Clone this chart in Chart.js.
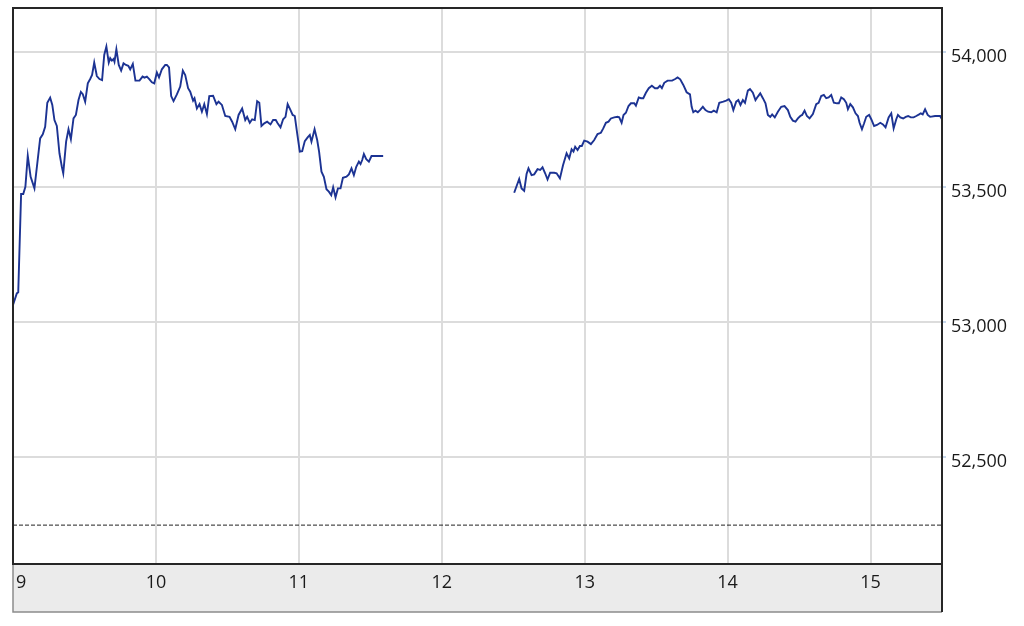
<!DOCTYPE html>
<html>
<head>
<meta charset="utf-8">
<script src="https://cdn.jsdelivr.net/npm/chart.js@4/dist/chart.umd.min.js"></script>
<style>
html,body{margin:0;padding:0;background:#fff;}
#wrap{width:1024px;height:626px;}
</style>
</head>
<body>
<div id="wrap"><canvas id="c" width="1024" height="626"></canvas></div>
<script>
// minutes after 9:00
const amTimes = [0,1.6,2.2,3.4,4.3,5.2,6.2,7.4,9.0,11.4,
12.5,13.5,14.4,15.6,16.5,17.4,18.4,19.5,20.5,21.1,
22.3,23.3,24.3,25.4,26.4,27.5,28.5,29.3,30.3,31.4,
32.4,33.2,34.1,35.2,36.3,37.4,38.3,39.2,40.2,40.8,
41.5,42.2,42.6,43.4,44.4,45.4,46.4,47.4,48.4,49.2,
50.3,51.4,53.1,54.4,55.2,56.2,57.3,58.3,59.3,60.4,
61.3,62.5,63.9,64.6,65.5,66.4,67.4,68.8,70.2,71.3,
72.3,73.5,74.4,75.6,76.2,77.2,78.3,79.3,80.3,81.4,
82.4,84.0,85.4,86.3,87.7,89.1,90.9,92.0,93.3,94.7,
96.2,97.5,98.3,99.4,100.4,101.5,102.5,103.4,104.3,105.5,
106.7,108.1,109.2,110.3,111.1,112.3,113.4,114.4,115.3,116.5,
117.4,118.3,119.3,120.4,121.4,122.5,123.7,124.6,125.3,126.6,
127.7,128.5,129.5,130.5,131.6,132.6,133.6,134.4,135.4,136.4,
137.5,138.5,140.0,141.0,142.1,143.1,144.1,145.2,145.9,146.6,
147.3,148.3,149.4,150.5,152.2,155.4];
const amPrices = [53063,53106,53110,53474,53474,53501,53616,53538,53495,53680,
53695,53723,53812,53831,53804,53748,53726,53625,53575,53551,
53668,53714,53677,53754,53767,53822,53852,53844,53816,53884,
53900,53915,53961,53911,53900,53896,53989,54020,53961,53977,
53968,53974,53964,54010,53952,53931,53958,53952,53949,53936,
53956,53894,53894,53909,53905,53909,53899,53888,53884,53924,
53906,53936,53952,53952,53943,53837,53818,53843,53872,53931,
53915,53866,53853,53820,53829,53791,53807,53779,53807,53770,
53837,53838,53807,53816,53804,53763,53760,53742,53714,53767,
53791,53748,53760,53738,53751,53748,53818,53812,53726,53736,
53742,53732,53748,53748,53736,53721,53751,53760,53807,53785,
53767,53763,53699,53631,53633,53670,53684,53693,53668,53714,
53674,53631,53557,53538,53492,53483,53470,53499,53462,53495,
53495,53534,53538,53547,53569,53544,53575,53594,53585,53600,
53622,53603,53594,53615,53615,53615];
const pmTimes = [210.4,212.5,213.5,214.6,215.6,216.4,217.7,218.8,220.2,221.3,
222.3,223.4,224.4,225.5,227.2,228.2,229.6,230.9,232.4,233.5,
234.5,235.3,236.0,237.0,238.0,238.8,239.8,241.2,242.6,244.0,
245.4,246.8,247.8,248.9,250.0,251.0,252.4,253.8,254.5,255.5,
256.3,257.3,258.4,259.4,260.8,261.5,262.7,263.6,264.6,265.7,
266.9,268.2,269.5,270.6,271.6,272.4,273.4,274.8,276.7,278.0,
279.0,280.1,281.4,282.8,284.2,284.9,285.6,286.5,287.5,288.4,
289.6,290.7,291.8,293.1,294.2,295.4,296.5,298.2,299.4,300.5,
301.5,302.4,303.6,304.5,305.4,306.4,307.3,308.5,309.4,310.6,
311.7,312.7,313.7,314.8,315.9,316.9,317.9,318.7,319.8,321.1,
322.5,323.9,325.3,326.3,327.4,328.5,329.5,330.5,331.3,332.3,
333.3,334.4,335.8,337.2,338.2,339.3,340.4,341.4,342.4,343.5,
344.6,345.9,346.7,347.7,348.8,349.8,350.5,351.5,352.6,353.7,
354.7,355.4,356.4,357.3,358.2,359.4,360.3,361.5,362.7,364.1,
365.2,366.3,367.6,368.7,369.7,370.8,371.5,372.5,373.7,374.8,
375.8,376.9,378.1,379.2,380.4,381.1,381.9,382.9,384.0,385.0,
387.1,389.2,390.0];
const pmPrices = [53479,53530,53495,53486,53548,53569,53544,53547,53566,53563,
53573,53551,53528,53553,53553,53551,53532,53581,53625,53606,
53640,53631,53649,53637,53652,53652,53672,53668,53659,53674,
53696,53701,53717,53738,53742,53754,53758,53760,53758,53738,
53767,53775,53800,53810,53810,53801,53832,53829,53829,53849,
53866,53875,53866,53866,53875,53866,53886,53894,53894,53900,
53906,53899,53878,53851,53843,53797,53777,53783,53777,53785,
53797,53785,53779,53777,53783,53777,53812,53816,53820,53825,
53812,53785,53816,53822,53804,53822,53812,53857,53863,53849,
53822,53835,53847,53829,53810,53767,53760,53769,53758,53779,
53797,53800,53785,53760,53746,53742,53754,53763,53767,53783,
53763,53754,53770,53807,53812,53837,53841,53829,53832,53841,
53812,53810,53810,53832,53825,53812,53788,53807,53795,53773,
53763,53738,53714,53736,53760,53767,53751,53726,53730,53738,
53732,53721,53758,53773,53717,53751,53767,53758,53754,53760,
53763,53758,53758,53763,53769,53773,53769,53788,53767,53760,
53763,53763,53751];
const hourTicks = [0,60,120,180,240,300,360,390];
const hourLabels = ['9','10','11','12','13','14','15',''];
const priceTicks = [52500,53000,53500,54000];
const prevClose = 52248;
const yMin = 52104, yMax = 54163;

const toXY = (ts, ps) => ts.map((t, i) => ({x: t, y: ps[i]}));

const framePlugin = {
  id: 'frame',
  beforeDraw(chart) {
    const {ctx, chartArea: a} = chart;
    ctx.save();
    ctx.fillStyle = '#ebebeb';
    ctx.fillRect(a.left, a.bottom, a.right - a.left, 48);
    ctx.strokeStyle = '#8c8c8c';
    ctx.lineWidth = 1.5;
    ctx.beginPath();
    ctx.moveTo(a.left, a.bottom);
    ctx.lineTo(a.left, a.bottom + 48);
    ctx.lineTo(a.right, a.bottom + 48);
    ctx.stroke();
    ctx.restore();
  },
  afterDraw(chart) {
    const {ctx, chartArea: a} = chart;
    ctx.save();
    ctx.strokeStyle = '#262626';
    ctx.lineWidth = 2;
    ctx.strokeRect(a.left, a.top, a.right - a.left, a.bottom - a.top);
    ctx.beginPath();
    ctx.moveTo(a.right, a.bottom);
    ctx.lineTo(a.right, a.bottom + 48);
    ctx.stroke();
    ctx.restore();
  }
};

const lineStyle = {
  borderColor: '#1c3393',
  borderWidth: 1.9,
  pointRadius: 0,
  tension: 0,
  fill: false
};

new Chart(document.getElementById('c'), {
  type: 'line',
  data: {
    datasets: [
      Object.assign({label: 'am', data: toXY(amTimes, amPrices)}, lineStyle),
      Object.assign({label: 'pm', data: toXY(pmTimes, pmPrices)}, lineStyle),
      {label: 'prev', data: [{x: hourTicks[0], y: prevClose}, {x: hourTicks[hourTicks.length - 1], y: prevClose}],
       borderColor: '#222', borderWidth: 1, borderDash: [4, 2], pointRadius: 0, fill: false}
    ]
  },
  options: {
    responsive: false,
    animation: false,
    layout: {padding: {left: 13, top: 8, right: 0, bottom: 0}},
    plugins: {legend: {display: false}, tooltip: {enabled: false}},
    scales: {
      x: {
        type: 'linear',
        min: 0, max: 390,
        afterFit: s => { s.height = 62; s.paddingLeft = 0; s.paddingRight = 0; },
        afterBuildTicks: s => { s.ticks = hourTicks.map(v => ({value: v})); },
        grid: {color: '#dcdcdc', lineWidth: 2, drawTicks: false},
        border: {display: false},
        ticks: {
          align: 'inner',
          padding: 8,
          maxRotation: 0,
          autoSkip: false,
          color: '#1a1a1a',
          font: {family: '"Open Sans", "Noto Sans", sans-serif', size: 18},
          callback: (v) => {
            const i = hourTicks.indexOf(v);
            return i === 0 ? '\u2009' + hourLabels[i] : hourLabels[i];
          }
        }
      },
      y: {
        position: 'right',
        min: yMin, max: yMax,
        afterFit: s => { s.width = 82; s.paddingTop = 0; s.paddingBottom = 0; },
        afterBuildTicks: s => { s.ticks = priceTicks.map(v => ({value: v})); },
        grid: {color: '#dcdcdc', lineWidth: 2, drawTicks: true, tickLength: 4, tickColor: '#c5d6ea'},
        border: {display: false},
        ticks: {
          padding: 5,
          labelOffset: 5,
          color: '#1a1a1a',
          font: {family: '"Open Sans", "Noto Sans", sans-serif', size: 18},
          callback: (v) => v.toLocaleString('en-US')
        }
      }
    }
  },
  plugins: [framePlugin]
});
</script>
</body>
</html>
